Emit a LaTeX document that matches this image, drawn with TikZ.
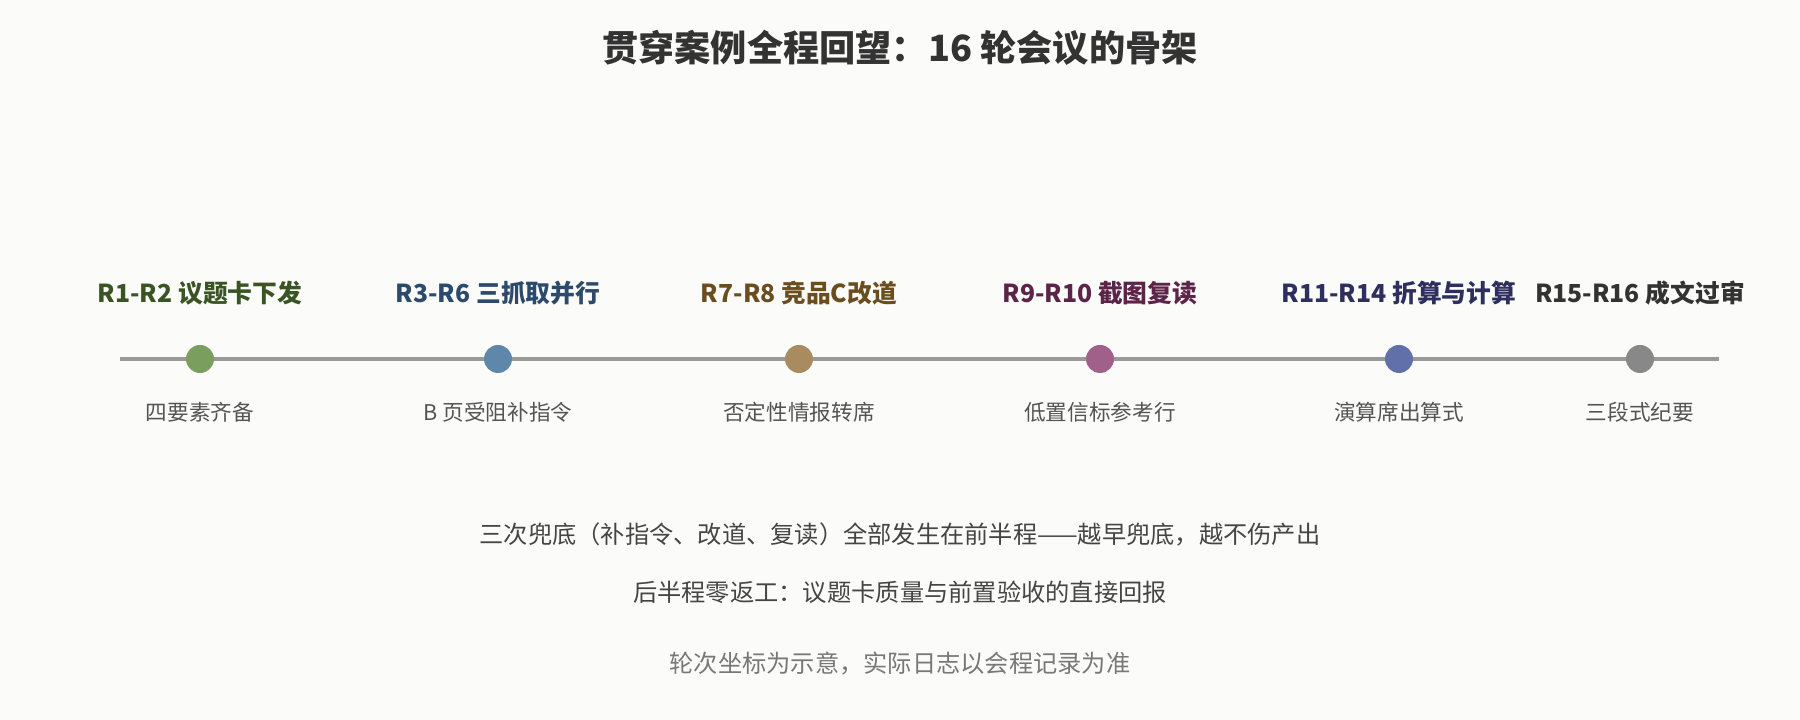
\documentclass[tikz,border=0pt]{standalone}
\usepackage{fontspec}
\setmainfont{Noto Sans CJK SC}
\usepackage{tikz}
\definecolor{fond}{RGB}{251,251,249}
\definecolor{titre}{RGB}{51,51,51}
\definecolor{axe}{RGB}{153,153,153}
\definecolor{vertA}{RGB}{122,158,94}
\definecolor{vertB}{RGB}{58,84,36}
\definecolor{bleuA}{RGB}{95,135,170}
\definecolor{bleuB}{RGB}{44,74,107}
\definecolor{ocreA}{RGB}{168,139,94}
\definecolor{ocreB}{RGB}{107,78,31}
\definecolor{mauveA}{RGB}{160,96,138}
\definecolor{mauveB}{RGB}{92,36,72}
\definecolor{indigoA}{RGB}{97,112,168}
\definecolor{indigoB}{RGB}{46,47,94}
\definecolor{grisA}{RGB}{136,136,136}
\definecolor{grisB}{RGB}{51,51,51}

\begin{document}
\begin{tikzpicture}[
  phase/.style={font=\fontsize{7.05}{9}\selectfont\bfseries},
  sous/.style={font=\fontsize{6.15}{8}\selectfont, text=black!67},
  bilan/.style={font=\fontsize{6.9}{9}\selectfont, text=black!73},
  pastille/.style={circle, inner sep=0pt, minimum size=0.28cm}]
\fill [fond] (0,0) rectangle (18,7.2);
\useasboundingbox (0,0) rectangle (18,7.2);

\node [font=\fontsize{10.3}{12}\selectfont\bfseries, text=titre] (titre) at (9,6.72) {贯穿案例全程回望：16 轮会议的骨架};

% axe du temps
\coordinate (debut) at (1.20,3.61);
\coordinate (fin) at (17.19,3.61);
\draw [line width=1pt, axe] (debut) -- (fin);

\node [pastille, fill=vertA] (p1) at (2.00,3.61) {};
\node [pastille, fill=bleuA] (p2) at (4.98,3.61) {};
\node [pastille, fill=ocreA] (p3) at (7.99,3.61) {};
\node [pastille, fill=mauveA] (p4) at (11.00,3.61) {};
\node [pastille, fill=indigoA] (p5) at (13.99,3.61) {};
\node [pastille, fill=grisA] (p6) at (16.40,3.61) {};

\node [phase, text=vertB] (r1) at (2.00,4.27) {R1-R2 议题卡下发};
\node [phase, text=bleuB] (r2) at (4.98,4.27) {R3-R6 三抓取并行};
\node [phase, text=ocreB] (r3) at (7.99,4.27) {R7-R8 竞品C改道};
\node [phase, text=mauveB] (r4) at (11.00,4.27) {R9-R10 截图复读};
\node [phase, text=indigoB] (r5) at (13.99,4.27) {R11-R14 折算与计算};
\node [phase, text=grisB] (r6) at (16.40,4.27) {R15-R16 成文过审};

\node [sous] (s1) at (2.00,3.08) {四要素齐备};
\node [sous] (s2) at (4.98,3.08) {B 页受阻补指令};
\node [sous] (s3) at (7.99,3.08) {否定性情报转席};
\node [sous] (s4) at (11.00,3.08) {低置信标参考行};
\node [sous] (s5) at (13.99,3.08) {演算席出算式};
\node [sous] (s6) at (16.40,3.08) {三段式纪要};

\node [bilan] (b1) at (9,1.86) {三次兜底（补指令、改道、复读）全部发生在前半程——越早兜底，越不伤产出};
\node [bilan] (b2) at (9,1.28) {后半程零返工：议题卡质量与前置验收的直接回报};
\node [bilan, text=black!53] (b3) at (9,0.56) {轮次坐标为示意，实际日志以会程记录为准};

\end{tikzpicture}
\end{document}
